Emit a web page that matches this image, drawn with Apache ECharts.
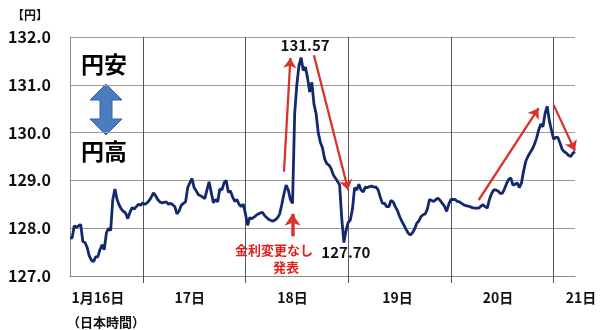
<!DOCTYPE html>
<html><head><meta charset="utf-8">
<script src="https://cdn.jsdelivr.net/npm/echarts@6/dist/echarts.min.js"></script>
<style>html,body{margin:0;padding:0;background:#fff}#c{width:600px;height:330px}</style>
</head><body><div id="c"></div>
<script>
// USD/JPY, 30-minute samples, Japan time, from 1/16 07:00
const startDay = 16, startHour = 7, stepMinutes = 30;
const usdjpy = [
127.79,127.80,128.05,128.02,128.05,128.08,127.72,127.70,127.60,127.42,
127.33,127.30,127.40,127.40,127.55,127.65,127.55,127.90,128.00,127.95,
128.60,128.82,128.60,128.48,128.40,128.35,128.32,128.20,128.33,128.43,
128.40,128.45,128.50,128.48,128.53,128.50,128.53,128.58,128.65,128.74,
128.68,128.60,128.55,128.53,128.54,128.55,128.50,128.52,128.49,128.45,
128.30,128.36,128.48,128.52,128.55,128.85,128.95,129.04,128.85,128.78,
128.70,128.68,128.65,128.62,128.80,128.97,128.75,128.53,128.60,128.55,
128.82,128.80,128.95,129.00,128.75,128.78,128.65,128.56,128.60,128.50,
128.45,128.50,128.30,128.06,128.22,128.20,128.23,128.27,128.30,128.32,
128.33,128.26,128.22,128.18,128.16,128.15,128.18,128.22,128.30,128.50,
128.72,128.90,128.80,128.60,128.52,130.40,131.00,131.40,131.57,131.30,
131.37,131.15,130.85,131.05,130.60,130.40,130.00,129.80,129.68,129.45,
129.35,129.32,129.25,129.12,129.05,128.98,128.90,128.20,127.70,127.95,
128.12,128.17,128.40,128.85,128.80,128.92,128.80,128.76,128.86,128.85,
128.87,128.88,128.86,128.86,128.80,128.65,128.52,128.52,128.45,128.45,
128.58,128.55,128.45,128.37,128.25,128.15,128.07,127.98,127.90,127.86,
127.90,127.98,128.10,128.15,128.24,128.28,128.30,128.40,128.60,128.58,
128.56,128.60,128.63,128.58,128.52,128.46,128.35,128.50,128.60,128.60,
128.60,128.56,128.55,128.52,128.49,128.47,128.46,128.45,128.43,128.42,
128.42,128.42,128.46,128.49,128.45,128.42,128.60,128.72,128.80,128.80,
128.78,128.73,128.73,128.82,128.93,129.02,129.05,128.90,128.92,128.95,
128.85,128.95,129.20,129.40,129.50,129.58,129.65,129.75,129.88,130.05,
130.18,130.12,130.40,130.55,130.25,130.05,129.86,129.90,129.90,129.78,
129.65,129.60,129.57,129.52,129.50,129.57,129.60
];
const yMin = 127, yMax = 132, yStep = 1;
const dayLabels = ['1月16日','17日','18日','19日','20日','21日'];
const dayLabelAt = ['1/16 13:30','1/17 11:00','1/18 11:00','1/19 11:30','1/20 11:00','1/21 05:00'];
const peakLow = [
  {time:'1/18 13:00', value:131.57, offset:[4,-12]},
  {time:'1/18 23:00', value:127.70, offset:[2,10]}
];
// trend arrows: [fromTime, fromValue, toTime, toValue]
const arrows = [
  ['1/18 11:00',127.83,'1/18 11:00',128.30],
  ['1/18 09:00',129.18,'1/18 10:30',131.56],
  ['1/18 16:00',131.62,'1/19 00:00',128.80],
  ['1/20 06:30',128.59,'1/20 20:30',130.51],
  ['1/21 00:00',130.58,'1/21 05:00',129.62]
];

const pad = n => String(n).padStart(2,'0');
const times = usdjpy.map((_, i) => {
  const m = startHour*60 + i*stepMinutes;
  const d = startDay + Math.floor(m/1440), mm = m % 1440;
  return `1/${d} ${pad(Math.floor(mm/60))}:${pad(mm%60)}`;
});
const idxOf = t => times.indexOf(t);
const boundary = new Set(times.map((t,i)=>t.endsWith('00:00')?i:-1).filter(i=>i>0));
const labelMap = new Map(dayLabelAt.map((t,k)=>[idxOf(t), dayLabels[k]]));
const lastIdx = times.length - 1;

const FF = '"Noto Sans CJK JP","Noto Sans",sans-serif';
const chart = echarts.init(document.getElementById('c'), null, {renderer:'canvas'});
chart.setOption({
  animation:false,
  backgroundColor:'#fff',
  grid:{left:70, right:25, top:37, bottom:54},
  xAxis:{
    type:'category', data:times, boundaryGap:false,
    axisLine:{lineStyle:{color:'#8a8a8a', width:1}},
    axisTick:{show:true, interval:(i)=>boundary.has(i), length:7, lineStyle:{color:'#555'}},
    splitLine:{show:true, interval:(i)=>boundary.has(i), lineStyle:{color:'#555', width:1}},
    axisLabel:{interval:(i)=>labelMap.has(i),
      formatter:(v,i)=> i===lastIdx ? '{r|'+labelMap.get(i)+'}' : (labelMap.get(i)||''),
      rich:{r:{padding:[0,0,0,12], color:'#111', fontWeight:'bold', fontSize:14, fontFamily:'"Noto Sans CJK JP","Noto Sans",sans-serif'}},
      margin:15, color:'#111', fontWeight:'bold', fontSize:14, fontFamily:FF}
  },
  yAxis:{
    type:'value', min:yMin, max:yMax, interval:yStep,
    axisLine:{show:true, lineStyle:{color:'#8a8a8a'}}, axisTick:{show:false},
    splitLine:{lineStyle:{color:'#9a9a9a', width:1}},
    axisLabel:{formatter:v=>v.toFixed(1), margin:19, fontSize:16, fontWeight:'bold', color:'#111', fontFamily:FF}
  },
  series:[{
    type:'line', data:usdjpy, showSymbol:false, smooth:false,
    lineStyle:{color:'#14296b', width:2.8}, z:3,
    markPoint:{
      symbol:'circle', symbolSize:0, silent:true,
      data: peakLow.map(p=>({coord:[idxOf(p.time), p.value], value:p.value,
        label:{show:true, position:'inside', offset:p.offset, formatter:q=>q.value.toFixed(2),
          color:'#111', fontWeight:'bold', fontSize:15, fontFamily:FF}}))
    },
    markLine:{
      silent:true, symbol:['none','arrow'], symbolSize:10, label:{show:false},
      lineStyle:{color:'#d9342b', width:2.3, type:'solid'}, z:4,
      data: arrows.map((a,k)=>[
        {coord:[idxOf(a[0]), a[1]], symbol:'none'},
        {coord:[idxOf(a[2]), a[3]], symbol:'arrow', symbolSize: k===0?12:10,
         lineStyle: k===0?{width:3.5, color:'#d9342b'}:undefined}
      ])
    }
  }],
  graphic:[
    {type:'text', x:30, y:15, style:{text:'【円】', fill:'#111', font:'bold 12px '+FF, align:'center', verticalAlign:'middle', textAlign:'center', textVerticalAlign:'middle'}},
    {type:'text', x:104, y:64, style:{text:'円安', fill:'#000', font:'bold 23px '+FF, align:'center', verticalAlign:'middle', textAlign:'center', textVerticalAlign:'middle'}},
    {type:'text', x:104, y:151, style:{text:'円高', fill:'#000', font:'bold 23px '+FF, align:'center', verticalAlign:'middle', textAlign:'center', textVerticalAlign:'middle'}},
    {type:'polygon', shape:{points:[[106,84],[122,100],[112,100],[112,119],[122,119],[106,135],[90,119],[100,119],[100,100],[90,100]]},
      style:{fill:'#4a7cc0', stroke:'#33629e', lineWidth:1}},
    {type:'text', x:274, y:250, style:{text:'金利変更なし', fill:'#e0211c', font:'bold 13px '+FF, align:'center', verticalAlign:'middle', textAlign:'center', textVerticalAlign:'middle'}},
    {type:'text', x:286, y:267, style:{text:'発表', fill:'#e0211c', font:'bold 13px '+FF, align:'center', verticalAlign:'middle', textAlign:'center', textVerticalAlign:'middle'}},
    {type:'text', x:67, y:322, style:{text:'（日本時間）', fill:'#111', font:'bold 13px '+FF, align:'left', verticalAlign:'middle', textAlign:'left', textVerticalAlign:'middle'}}
  ]
});
</script></body></html>
